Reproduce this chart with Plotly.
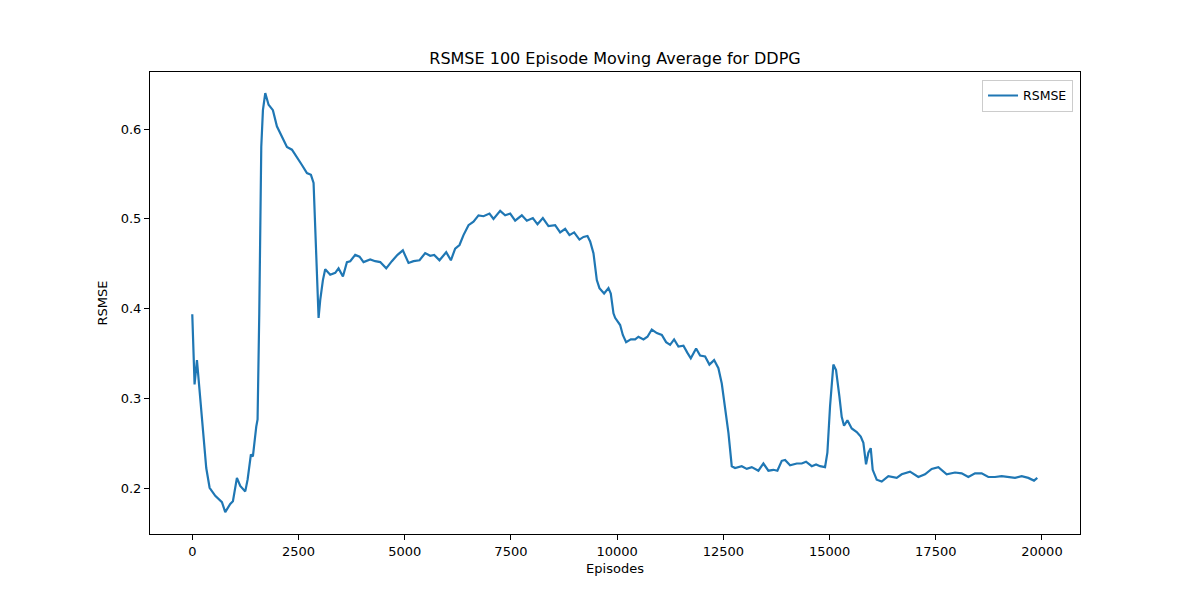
import plotly.graph_objects as go

# 100-episode moving average of RSMSE
episodes = [0, 54, 110, 188, 266, 329, 408, 541, 698, 776, 894, 957, 1051, 1129,
            1247, 1302, 1380, 1427, 1506, 1537, 1577, 1624, 1663, 1718, 1796, 1898,
            1992, 2110, 2228, 2346, 2463, 2581, 2699, 2793, 2855, 2910, 2973, 3012,
            3075, 3129, 3247, 3365, 3443, 3546, 3640, 3718, 3835, 3937, 4031, 4188,
            4306, 4424, 4565, 4698, 4831, 4957, 5090, 5208, 5349, 5482, 5600, 5694,
            5819, 5977, 6087, 6188, 6290, 6384, 6502, 6619, 6737, 6855, 6996, 7090,
            7247, 7365, 7483, 7600, 7757, 7875, 8016, 8126, 8252, 8384, 8541, 8659,
            8777, 8878, 8988, 9113, 9208, 9302, 9365, 9443, 9522, 9584, 9694, 9796,
            9851, 9914, 9953, 10071, 10134, 10212, 10322, 10424, 10502, 10620, 10714,
            10816, 10934, 11052, 11153, 11247, 11341, 11443, 11561, 11655, 11734,
            11859, 11953, 12071, 12172, 12283, 12384, 12463, 12541, 12620, 12698,
            12776, 12933, 13051, 13169, 13325, 13443, 13561, 13678, 13772, 13875,
            13953, 14071, 14228, 14346, 14447, 14581, 14683, 14777, 14894, 14949,
            15012, 15090, 15153, 15231, 15286, 15341, 15420, 15522, 15640, 15734,
            15796, 15859, 15914, 15969, 16016, 16110, 16228, 16384, 16581, 16698,
            16894, 17090, 17247, 17404, 17561, 17757, 17953, 18110, 18267, 18424,
            18581, 18737, 18894, 19051, 19208, 19365, 19522, 19678, 19812, 19890]

rsmse = [0.394, 0.316, 0.343, 0.303, 0.254, 0.223, 0.201, 0.192, 0.185, 0.174,
         0.183, 0.186, 0.212, 0.203, 0.197, 0.210, 0.238, 0.236, 0.269, 0.277,
         0.395, 0.580, 0.621, 0.640, 0.627, 0.621, 0.603, 0.592, 0.580, 0.577,
         0.569, 0.560, 0.551, 0.549, 0.540, 0.477, 0.390, 0.410, 0.432, 0.444,
         0.438, 0.440, 0.445, 0.436, 0.452, 0.453, 0.460, 0.458, 0.452, 0.455,
         0.453, 0.452, 0.445, 0.453, 0.460, 0.465, 0.451, 0.453, 0.454, 0.462,
         0.459, 0.460, 0.454, 0.463, 0.454, 0.467, 0.471, 0.482, 0.493, 0.497,
         0.504, 0.503, 0.506, 0.500, 0.509, 0.504, 0.506, 0.498, 0.504, 0.498,
         0.501, 0.494, 0.501, 0.492, 0.493, 0.485, 0.489, 0.482, 0.485, 0.477,
         0.480, 0.481, 0.475, 0.462, 0.432, 0.423, 0.417, 0.423, 0.417, 0.395,
         0.390, 0.382, 0.371, 0.363, 0.366, 0.366, 0.369, 0.366, 0.369, 0.377,
         0.373, 0.371, 0.363, 0.360, 0.366, 0.358, 0.359, 0.351, 0.345, 0.356,
         0.348, 0.347, 0.338, 0.343, 0.334, 0.317, 0.292, 0.262, 0.225, 0.223,
         0.225, 0.222, 0.224, 0.220, 0.228, 0.220, 0.221, 0.220, 0.231, 0.232,
         0.226, 0.228, 0.228, 0.230, 0.225, 0.227, 0.225, 0.224, 0.240, 0.292,
         0.338, 0.332, 0.303, 0.280, 0.270, 0.276, 0.267, 0.263, 0.258, 0.251,
         0.227, 0.240, 0.245, 0.221, 0.210, 0.208, 0.214, 0.212, 0.216, 0.219,
         0.213, 0.216, 0.222, 0.224, 0.216, 0.218, 0.217, 0.213, 0.217, 0.217,
         0.213, 0.213, 0.214, 0.213, 0.212, 0.214, 0.212, 0.209, 0.212]

x_ticks = [0, 2500, 5000, 7500, 10000, 12500, 15000, 17500, 20000]
y_ticks = [0.2, 0.3, 0.4, 0.5, 0.6]

font = "DejaVu Sans"

fig = go.Figure()

fig.add_trace(go.Scatter(x=episodes, y=rsmse,
        mode='lines',
        name='RSMSE',
        line=dict(color='#1f77b4', width=2.2)))

axis_style = dict(
    showline=True, mirror=True, linecolor='black', linewidth=1,
    ticks='outside', ticklen=5, tickwidth=1, tickcolor='black',
    showgrid=False, zeroline=False,
    tickfont=dict(family=font, size=13, color='black'))

# page body has an 8px margin, so the margins are shifted to compensate
fig.update_layout(
    width=1200, height=600,
    margin=dict(l=142, r=128, t=64, b=74),
    paper_bgcolor='white', plot_bgcolor='white',
    font=dict(family=font, color='black'),
    title=dict(text='RSMSE 100 Episode Moving Average for DDPG',
               x=0.5, xanchor='center', xref='paper',
               y=1 - 50/600, yanchor='middle', yref='container',
               font=dict(family=font, size=16, color='black')),
    xaxis=dict(axis_style, range=[-995, 20895], tickvals=x_ticks,
               tickformat='d',
               title=dict(text='Episodes', standoff=6,
                          font=dict(family=font, size=13))),
    yaxis=dict(axis_style, range=[0.1496, 0.6634], tickvals=y_ticks,
               tickformat='.1f',
               title=dict(text='RSMSE', standoff=10,
                          font=dict(family=font, size=13))),
    showlegend=True,
    legend=dict(
        x=0.9925, xanchor='right',
        y=0.983, yanchor='top',
        bordercolor='#cccccc', borderwidth=1,
        bgcolor='rgba(255,255,255,0.8)',
        itemwidth=30, tracegroupgap=0,
        font=dict(family=font, size=12.5, color='black')),
)

fig.write_html("out.html")
